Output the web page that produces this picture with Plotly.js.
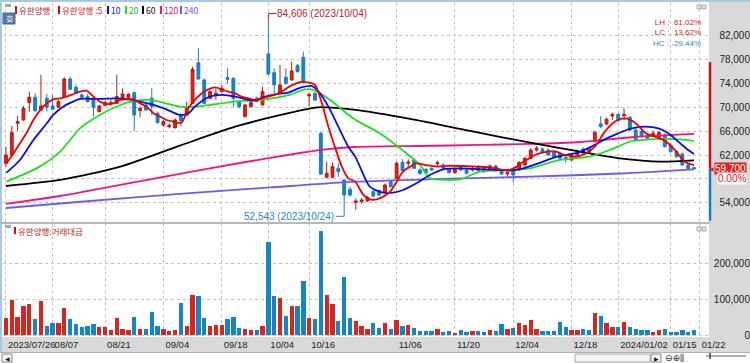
<!DOCTYPE html>
<html><head><meta charset="utf-8">
<script src="https://cdn.plot.ly/plotly-3.0.1.min.js"></script>
<style>html,body{margin:0;padding:0;background:#fff;}#c{width:750px;height:363px;}</style>
</head><body><div id="c"></div>
<script>
// ---- data ----
const tickIdx = [0,8,17,27,37,45,52,67,77,87,97,105,114,119];
const tickLabels = ['2023/07/26','08/07','08/21','09/04','09/18','10/04','10/16','11/06','11/20','12/04','12/18','2024/01/02','01/15','01/22'];
const priceTicks = [54000,58000,62000,66000,70000,74000,78000,82000];
const priceTickText = ['54,000','','62,000','66,000','70,000','74,000','78,000','82,000'];
const volTicks = [0,100000,200000];
const volTickText = ['0','100,000','200,000'];

const openP = [60610,62010,67330,67890,70800,71700,69570,71530,70240,70020,
71810,74780,73380,72090,71810,71530,69290,70350,70580,70690,
71640,71700,72480,69460,70410,71530,69010,67050,66770,66600,
68730,68730,70690,77520,74610,71530,72090,72650,75000,74890,
70970,68450,70130,71530,70410,78980,75840,72370,75060,74610,
77020,78420,71920,72370,65650,58260,58260,59770,57810,56240,
54060,54170,54280,55850,56020,55680,57530,58090,60780,60610,
61170,59490,59600,59770,60550,60330,59600,59040,59880,59490,
59490,60050,59770,59490,60160,59490,58820,59490,59490,60330,
61450,62850,63020,62850,62570,62290,61620,61170,62010,63020,
63130,64250,67220,67220,68560,68840,68600,68340,66210,65930,
65370,65400,64980,65370,63690,62570,62180,60330,59880];
const highP = [63410,66880,68560,70240,72650,72370,75450,72260,72090,71250,
75060,75170,73770,72370,72200,71810,70410,71080,71250,75450,
73210,72370,72650,70130,70690,73210,69290,67890,67330,68170,
69010,70970,76850,79930,74890,72930,73210,73770,76570,75060,
71250,70580,71140,71810,73490,84606,76570,77130,76570,77690,
77300,79370,72480,72540,65930,60890,60720,60610,57920,56690,
54730,54730,55120,56240,56240,57250,57810,60890,61280,61280,
61340,59770,59770,59940,61060,60610,59770,59880,60050,59600,
60050,60330,60050,60440,60330,59600,59380,59770,61000,61730,
63130,63520,63300,63130,62850,62570,62010,62290,62850,63300,
63410,66100,68560,68280,69120,69010,69850,68560,66490,66200,
65650,66100,66100,65650,63970,62850,62400,60610,60050];
const lowP = [60050,61840,66100,67780,69290,69230,69460,69290,69570,69850,
71700,72930,72260,71470,70800,68450,69180,70240,70240,70580,
71470,71470,66040,68340,69460,68730,67330,66770,66490,66430,
66770,68560,70580,74610,70580,71360,71250,72480,74050,70130,
69850,68340,70020,70860,70300,75450,72370,72260,73770,74500,
75840,74050,70240,71080,58650,58140,58140,58370,52543,55010,
52800,53780,54110,54900,55120,55570,56580,57980,59210,60050,
59660,58650,58930,59320,60050,59490,58930,58880,59320,58770,
59210,59210,58990,59320,59210,58650,58480,57360,59380,60050,
61280,62570,62300,61840,61560,61280,60720,61000,61840,62120,
62200,64100,66490,67000,67890,67600,67890,66040,64360,64900,
64640,65090,64810,63240,62400,61560,60160,59600,59600];
const closeP = [62010,65760,67600,69850,71700,69460,70240,70020,69680,70970,
74780,73040,72370,71700,70970,70020,70240,70800,70800,71810,
72260,72200,68730,69850,69570,70130,67440,67610,66990,67890,
67780,70130,76400,74780,70690,72650,72370,73210,74720,71530,
70130,70410,70800,70970,72650,75620,73770,73770,74050,76120,
76010,74330,72200,71250,58820,58930,60050,59210,55290,55290,
54280,54450,54900,55120,55290,56970,56690,60610,59380,60830,
59770,58930,59040,59490,60720,59770,59040,59600,59490,58930,
59710,59380,59210,60160,59380,58820,59040,58650,60720,61450,
62850,63130,62460,62010,61730,61450,61280,62010,62570,62290,
62400,65820,66770,68000,68840,67780,68840,66210,64530,65090,
64810,65650,65760,63410,62570,61730,60330,59700,59700];
const volume = [48600,98000,49500,81000,86000,44800,96000,26000,32700,34600,
75700,44800,30800,23400,25200,30800,21500,23400,14000,46700,
17700,13000,50000,17700,15900,64000,25000,17700,12000,13000,
89000,25000,113000,109000,46700,26000,28000,28000,45800,50000,
18700,16800,14000,13000,26000,261000,109000,104000,54000,80000,
81000,151000,48600,44800,292000,111000,86000,39000,161600,46700,
39000,25000,17700,34600,18700,32700,15900,42000,26000,28000,
18700,11000,11000,11000,16800,9000,12000,6500,13000,9000,
11000,11000,9000,13000,11000,30800,15900,20500,32700,27000,
42000,17700,11000,11000,12000,36400,22400,13000,13000,16800,
13000,61600,52000,34600,23400,22400,36400,22400,16800,13000,
13000,8400,15000,16800,9000,9000,15000,9000,15000];

const ma5Idx = [0.1,1.3,2.4,3.5,4.7,5.8,7.0,8.1,9.3,10.4,11.5,12.7,13.8,15.0,16.1,17.3,18.4,19.6,20.7,21.8,23.0,24.1,25.3,26.4,27.5,28.7,30.1,31.3,32.4,33.6,34.7,35.9,37.0,38.1,39.3,40.4,41.6,42.7,43.9,45.0,46.1,47.3,48.4,49.6,50.7,51.9,53.0,54.1,55.3,56.4,57.6,58.7,59.9,61.3,62.4,63.6,64.7,65.9,67.0,68.1,69.3,70.4,72.0,74.0,76.1,78.4,80.7,83.0,85.3,86.4,87.6,88.7,89.9,90.7,92.4,94.1,95.9,97.6,99.3,101.0,102.7,104.4,106.1,107.9,109.6,111.3,113.0,114.7,116.4,118];
const ma5 = [60610,62290,63970,65650,67890,69460,70690,71360,71530,71810,72200,72650,72820,71810,70970,70580,70690,71250,71360,71360,70690,70130,69010,68450,67890,67610,67440,69850,71250,72370,73040,73380,73040,72650,72370,71810,71530,71250,71530,71810,72090,72650,73380,73940,74270,74160,73770,70970,66770,63410,60050,58090,57530,55290,54560,54560,55010,55850,57530,59210,60050,60610,60300,60050,60200,60160,60050,59940,59490,59490,60050,60890,61500,62000,62500,62600,62010,61730,62180,63410,65930,67610,68170,67440,65760,65090,64420,62850,60890,60300];
const ma10Idx = [0.1,2.4,4.7,7.0,8.1,9.8,11.5,12.7,16.1,19.0,21.0,23.0,25.3,27.5,29.8,31.3,32.4,34.7,37.0,39.3,41.6,42.7,43.9,46.1,48.4,50.7,52.4,53.6,55.3,57.0,58.7,59.9,60.7,62.4,64.7,66.4,68.1,70.4,72.7,75.0,77.9,81.9,84.1,86.4,88.7,91.3,93.6,95.9,98.1,100.4,102.7,105.0,107.3,109.6,111.9,113.6,115.3,117.0,118];
const ma10 = [59040,61170,64530,67330,68730,70130,70970,71420,71420,71530,71360,70970,70410,69680,68730,69010,70130,71700,72090,71810,71250,71140,71640,72200,72480,73380,73600,72650,70130,66770,63410,61730,60050,56690,55680,55680,56130,57250,58650,59600,59770,59600,59490,59380,59770,60610,61450,62010,62400,63410,64640,65650,66490,66770,66490,65650,64250,62850,62180];
const ma20Idx = [0.1,5.8,9.3,12.7,16.1,19.6,22.1,24.7,29.8,32.4,39.3,44.4,48.7,51.3,53.0,55.6,59.5,64.1,67.6,71.0,72.7,75.3,77.9,81.3,86.4,89.9,95.0,100.1,103.6,107.0,110.4,115.6,118];
const ma20 = [57530,60050,62570,66490,68730,70410,71080,71250,70130,70130,70970,71360,72090,73040,72820,71250,68200,65650,63130,60330,58090,57810,57920,59210,59490,59770,61170,61730,62850,64250,64640,64640,64360];
const ma60Idx = [0,9.3,19.6,29.8,39.3,49.6,53.5,59.9,69.3,79.6,89.9,98.5,105.3,112.2,118];
const ma60 = [56800,57810,60040,63570,66760,69280,70020,69570,68060,66040,64070,62560,61450,60880,61100];
const ma120Idx = [0,9.3,19.6,29.8,40.1,50.4,55.6,59.9,71.0,81.3,89.9,98.5,107.9,118];
const ma120 = [53780,55120,56970,58820,60660,62340,63020,63350,63520,63690,63860,64190,65030,65540];
const ma240Idx = [0,14.4,29.8,45.3,59.9,74.4,89.9,105.3,118];
const ma240 = [53100,54280,55460,56550,57520,57980,58360,58900,59600];

const upperLimit = 77600;   // price-limit bar (red part top)
const lowerLimit = 41800;   // price-limit bar (blue part bottom)
const hiDate = '2023/10/04', loDate = '2023/10/24';
const stockName = '유한양행';

// ---- helpers ----
const W = 750, H = 363;
const px = p => p / W;
const py = p => 1 - p / H;
const fmt = v => Math.round(v).toLocaleString('en-US');
const day = openP.map((_, i) => i);
const RED = '#d8261f', REDL = '#b81a16', BLUE = '#1784c6', BLUEL = '#1a7cc0';
const NARROW = 'Liberation Sans Narrow, Liberation Sans, Arial, sans-serif';
const KR = 'Noto Sans CJK KR, Noto Sans, sans-serif';

let hiIdx = 0, loIdx = 0;
highP.forEach((v, i) => { if (v > highP[hiIdx]) hiIdx = i; });
lowP.forEach((v, i) => { if (v < lowP[loIdx]) loIdx = i; });
const hi = highP[hiIdx], lo = lowP[loIdx], last = closeP[closeP.length - 1];
const prev = closeP[closeP.length - 2];
const LH = (hi / lo - 1) * 100, LC = (last / lo - 1) * 100, HC = (last / hi - 1) * 100;
const pct = v => (v >= 0 ? '\u00a0\u00a0' : ' ') + v.toFixed(2) + '%';

const xRange = [-0.51, 120.4];
const yRange = [50750, 87540];
const vRange = [-5600, 310900];

const traces = [
  {type: 'candlestick', x: day, open: openP, high: highP, low: lowP, close: closeP,
   xaxis: 'x', yaxis: 'y', whiskerwidth: 0, hoverinfo: 'skip', showlegend: false,
   increasing: {line: {color: REDL, width: 1}, fillcolor: RED},
   decreasing: {line: {color: BLUEL, width: 1}, fillcolor: BLUE}},
];
const maDefs = [
  [ma240Idx, ma240, '#6b5cf0'], [ma120Idx, ma120, '#f2157f'], [ma60Idx, ma60, '#000000'],
  [ma20Idx, ma20, '#1ee01e'], [ma10Idx, ma10, '#0a0af0'], [ma5Idx, ma5, '#f00000']
];
maDefs.forEach(([xs, ys, c]) => traces.push({
  type: 'scatter', mode: 'lines', x: xs, y: ys, xaxis: 'x', yaxis: 'y',
  line: {color: c, width: 1.8, shape: 'spline', smoothing: 0.7}, hoverinfo: 'skip', showlegend: false
}));
traces.push({
  type: 'bar', x: day, y: volume, xaxis: 'x2', yaxis: 'y2', width: 0.74,
  marker: {color: day.map(i => closeP[i] >= openP[i] ? RED : BLUE), line: {width: 0}},
  hoverinfo: 'skip', showlegend: false
});

const gridC = '#c4c4c4';
const xCommon = {
  domain: [px(3), px(708)], range: xRange, tickvals: tickIdx, showgrid: true,
  gridcolor: gridC, griddash: 'dot', gridwidth: 1, zeroline: false, showline: false,
  ticks: '', fixedrange: true, tickangle: 0
};

const legendItems = [
  [15, '#c0201c', '#b01818', stockName],
  [58, '#e00000', '#e01010', stockName + ' :5'],
  [107, '#0a0af0', '#1515d0', '10'],
  [125, '#1ee01e', '#18b818', '20'],
  [142, '#000000', '#111111', '60'],
  [160, '#f2157f', '#e0107a', '120'],
  [180, '#6b5cf0', '#6a5ae0', '240']
];

const shapes = [
  // backgrounds
  {type: 'rect', xref: 'paper', yref: 'paper', x0: px(709), x1: 1, y0: py(352), y1: py(2), fillcolor: '#d9d9d9', line: {width: 0}, layer: 'below'},
  {type: 'rect', xref: 'paper', yref: 'paper', x0: 0, x1: 1, y0: py(352), y1: py(337), fillcolor: '#d9d9d9', line: {width: 0}, layer: 'below'},
  {type: 'rect', xref: 'paper', yref: 'paper', x0: 0, x1: 1, y0: py(2), y1: 1, fillcolor: '#a9c8e8', line: {width: 0}},
  {type: 'line', xref: 'paper', yref: 'paper', x0: px(1), x1: px(1), y0: py(352), y1: 1, line: {color: '#a9c8e8', width: 2}},
  {type: 'line', xref: 'paper', yref: 'paper', x0: 0, x1: px(710), y0: py(223), y1: py(223), line: {color: '#b8b8b8', width: 2}},
  {type: 'line', xref: 'paper', yref: 'paper', x0: 0, x1: 1, y0: py(352.5), y1: py(352.5), line: {color: '#b0b0b0', width: 1}},
  // price-limit bar
  {type: 'line', xref: 'paper', yref: 'y', x0: px(710), x1: px(710), y0: last, y1: upperLimit, line: {color: '#d01010', width: 2.5}},
  {type: 'line', xref: 'paper', yref: 'y', x0: px(710), x1: px(710), y0: last, y1: Math.max(lowerLimit, yRange[0] + 200), line: {color: '#1a7fc0', width: 2.5}},
  // icons
  {type: 'rect', xref: 'paper', yref: 'paper', x0: px(3), x1: px(15), y0: py(24), y1: py(13), fillcolor: '#5b7ba6', line: {color: '#46658f', width: 1}},
  {type: 'rect', xref: 'paper', yref: 'paper', x0: px(5), x1: px(11), y0: py(7), y1: py(4), fillcolor: '#a8a8a8', line: {width: 0}},
  {type: 'rect', xref: 'paper', yref: 'paper', x0: px(5), x1: px(11), y0: py(228), y1: py(225), fillcolor: '#a8a8a8', line: {width: 0}},
  {type: 'rect', xref: 'paper', yref: 'paper', x0: px(697), x1: px(701), y0: py(9), y1: py(5), fillcolor: '#e8e8e8', line: {color: '#999', width: 0.8}},
  {type: 'rect', xref: 'paper', yref: 'paper', x0: px(702), x1: px(706), y0: py(9), y1: py(5), fillcolor: '#e8e8e8', line: {color: '#999', width: 0.8}},
  {type: 'rect', xref: 'paper', yref: 'paper', x0: px(697), x1: px(701), y0: py(231), y1: py(227), fillcolor: '#e8e8e8', line: {color: '#999', width: 0.8}},
  {type: 'rect', xref: 'paper', yref: 'paper', x0: px(702), x1: px(706), y0: py(231), y1: py(227), fillcolor: '#e8e8e8', line: {color: '#999', width: 0.8}},
  {type: 'rect', xref: 'paper', yref: 'paper', x0: px(14), x1: px(16), y0: py(234), y1: py(227), fillcolor: '#d01010', line: {width: 0}},
  // scroll bar row
  {type: 'rect', xref: 'paper', yref: 'paper', x0: px(2), x1: px(12), y0: py(362), y1: py(354), fillcolor: '#f4f4f4', line: {color: '#888', width: 1}},
  {type: 'rect', xref: 'paper', yref: 'paper', x0: px(575), x1: px(650), y0: py(362), y1: py(354), fillcolor: '#f4f4f4', line: {color: '#aaa', width: 1}},
  {type: 'rect', xref: 'paper', yref: 'paper', x0: px(651), x1: px(661), y0: py(362), y1: py(354), fillcolor: '#f4f4f4', line: {color: '#888', width: 1}},
  {type: 'line', xref: 'paper', yref: 'paper', x0: px(706), x1: px(746), y0: py(356), y1: py(356), line: {color: '#666', width: 1}},
  {type: 'line', xref: 'paper', yref: 'paper', x0: px(710), x1: px(710), y0: py(353), y1: py(359), line: {color: '#444', width: 1.5}},
  // high / low brackets
  {type: 'line', xref: 'x', yref: 'y', x0: hiIdx, x1: hiIdx, ysizemode: 'pixel', yanchor: hi, y0: 0, y1: 7, line: {color: '#c0201c', width: 1}},
  {type: 'line', xref: 'x', yref: 'y', xsizemode: 'pixel', xanchor: hiIdx, x0: 0, x1: 8, ysizemode: 'pixel', yanchor: hi, y0: 7, y1: 7, line: {color: '#c0201c', width: 1}},
  {type: 'line', xref: 'x', yref: 'y', x0: loIdx, x1: loIdx, ysizemode: 'pixel', yanchor: lo, y0: 0, y1: -5, line: {color: '#2a86c4', width: 1}},
  {type: 'line', xref: 'x', yref: 'y', xsizemode: 'pixel', xanchor: loIdx, x0: -8, x1: 0, ysizemode: 'pixel', yanchor: lo, y0: -5, y1: -5, line: {color: '#2a86c4', width: 1}}
];
legendItems.forEach(([x, mc]) => shapes.push(
  {type: 'rect', xref: 'paper', yref: 'paper', x0: px(x), x1: px(x + 2), y0: py(14), y1: py(6), fillcolor: mc, line: {width: 0}}
));

const annotations = legendItems.map(([x, mc, tc, t]) => ({
  xref: 'paper', yref: 'paper', x: px(x + 3), y: py(10), xanchor: 'left', yanchor: 'middle', showarrow: false,
  text: t, font: {family: KR, size: 8.5, color: tc}, borderpad: 0
}));
annotations.push(
  {xref: 'paper', yref: 'paper', x: px(17), y: py(230.5), xanchor: 'left', yanchor: 'middle', showarrow: false,
   text: stockName + ':거래대금', font: {family: KR, size: 8.5, color: '#c01818'}, borderpad: 0},
  {xref: 'paper', yref: 'paper', x: px(9), y: py(18.5), xanchor: 'center', yanchor: 'middle', showarrow: false,
   text: '호', font: {family: KR, size: 8, color: '#ffffff'}, borderpad: 0},
  {xref: 'paper', yref: 'paper', x: px(702), y: py(33.5), xanchor: 'right', yanchor: 'middle', align: 'right', showarrow: false,
   text: 'LH :' + pct(LH) + '<br>LC :' + pct(LC) + '<br><span style="color:#2a8ad0">HC :' + pct(HC) + '</span>',
   font: {family: NARROW, size: 8, color: '#d01818'}, borderpad: 0},
  {xref: 'x', yref: 'y', x: hiIdx, y: hi, xanchor: 'left', yanchor: 'middle', xshift: 8, yshift: 7, showarrow: false,
   text: fmt(hi) + ' (' + hiDate + ')', font: {family: NARROW, size: 10, color: '#c0201c'}, borderpad: 0},
  {xref: 'x', yref: 'y', x: loIdx, y: lo, xanchor: 'right', yanchor: 'middle', xshift: -9, yshift: -5, showarrow: false,
   text: fmt(lo) + ' (' + loDate + ')', font: {family: NARROW, size: 10, color: '#2a86c4'}, borderpad: 0},
  {xref: 'paper', yref: 'y', x: px(747), y: last, xanchor: 'right', yanchor: 'middle', showarrow: false,
   text: fmt(last), bgcolor: '#e0201c', borderpad: 0, font: {family: NARROW, size: 10, color: '#ffffff'}},
  {xref: 'paper', yref: 'y', x: px(747), y: last, yshift: -10, xanchor: 'right', yanchor: 'middle', showarrow: false,
   text: ((last / prev - 1) * 100).toFixed(2) + '%', bgcolor: '#ffffff', borderpad: 0, font: {family: NARROW, size: 10, color: '#e0201c'}},
  {xref: 'paper', yref: 'y', x: px(715), y: last, xanchor: 'right', yanchor: 'middle', showarrow: false,
   text: '◀', font: {family: 'DejaVu Sans', size: 6, color: '#e0201c'}, borderpad: 0},
  {xref: 'paper', yref: 'paper', x: px(7), y: py(358), xanchor: 'center', yanchor: 'middle', showarrow: false,
   text: '◀', font: {family: 'DejaVu Sans', size: 6, color: '#222'}, borderpad: 0},
  {xref: 'paper', yref: 'paper', x: px(656), y: py(358), xanchor: 'center', yanchor: 'middle', showarrow: false,
   text: '▶', font: {family: 'DejaVu Sans', size: 6, color: '#222'}, borderpad: 0},
  {xref: 'paper', yref: 'paper', x: px(664), y: py(358), xanchor: 'left', yanchor: 'middle', showarrow: false,
   text: '⊖⊕⫼', font: {family: 'DejaVu Sans', size: 9, color: '#333'}, borderpad: 0}
);

const layout = {
  width: W, height: H, margin: {l: 0, r: 0, t: 0, b: 0},
  paper_bgcolor: '#ffffff', plot_bgcolor: '#ffffff', showlegend: false,
  font: {family: NARROW, size: 10, color: '#222'},
  xaxis: Object.assign({}, xCommon, {anchor: 'y', showticklabels: false, rangeslider: {visible: false}}),
  xaxis2: Object.assign({}, xCommon, {anchor: 'y2', ticktext: tickLabels, showticklabels: true,
    ticklabelposition: 'outside right', ticklabelshift: 2, tickfont: {family: NARROW, size: 9.5, color: '#222'}}),
  yaxis: {domain: [py(222), py(3)], range: yRange, anchor: 'free', position: 1, side: 'left',
    tickvals: priceTicks, ticktext: priceTickText, showgrid: true, gridcolor: gridC, griddash: 'dot',
    zeroline: false, showline: false, ticks: '', fixedrange: true,
    tickfont: {family: NARROW, size: 10, color: '#222'}},
  yaxis2: {domain: [py(337), py(224)], range: vRange, anchor: 'free', position: 1, side: 'left',
    tickvals: volTicks, ticktext: volTickText, showgrid: true, gridcolor: gridC, griddash: 'dot',
    zeroline: false, showline: false, ticks: '', fixedrange: true,
    tickfont: {family: NARROW, size: 10, color: '#222'}},
  shapes: shapes, annotations: annotations, bargap: 0
};

Plotly.newPlot('c', traces, layout, {staticPlot: true, displayModeBar: false});
</script>
</body></html>
